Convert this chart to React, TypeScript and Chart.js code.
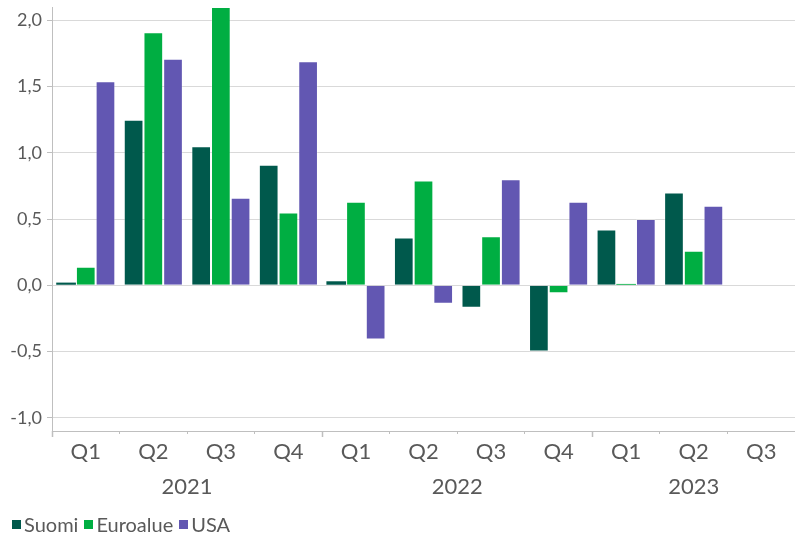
import React, { useEffect, useRef } from "react";
import { Chart, registerables } from "chart.js";

Chart.register(...registerables);

const categories = ["Q1", "Q2", "Q3", "Q4", "Q1", "Q2", "Q3", "Q4", "Q1", "Q2", "Q3"];
const years = ["2021", "2022", "2023"];
const yearGroupSizes = [4, 4, 3];

const suomi = [0.02, 1.25, 1.05, 0.91, 0.03, 0.36, -0.17, -0.5, 0.42, 0.7, null];
const euroalue = [0.14, 1.91, 2.1, 0.55, 0.63, 0.79, 0.37, -0.06, 0.01, 0.26, null];
const usa = [1.54, 1.71, 0.66, 1.69, -0.41, -0.14, 0.8, 0.63, 0.5, 0.6, null];

const seriesNames = ["Suomi", "Euroalue", "USA"];
const seriesColors = ["#00594c", "#00ae42", "#6257b2"];

const yMin = -1.1;
const yMax = 2.1;
const yTickMin = -1.0;
const yTickMax = 2.0;
const yStep = 0.5;

const FONT = "Lato";
const TEXT = "#595959";
const AXIS = "#bfbfbf";

const yearPlugin = {
  id: "yearLabels",
  afterDraw(chart: any) {
    const x = chart.scales.x;
    const ctx = chart.ctx;
    const half = (x.getPixelForValue(1) - x.getPixelForValue(0)) / 2;
    ctx.save();
    // longer ticks at year boundaries
    ctx.strokeStyle = AXIS;
    ctx.lineWidth = 1.5;
    let start = 0;
    const bounds: number[] = [start];
    for (const s of yearGroupSizes) {
      start += s;
      bounds.push(start);
    }
    bounds.forEach((b) => {
      if (b >= categories.length) return;
      const px = Math.round(x.getPixelForValue(b) - half) + 0.5;
      ctx.beginPath();
      ctx.moveTo(px, x.top);
      ctx.lineTo(px, x.top + 6);
      ctx.stroke();
    });
    // year labels
    ctx.fillStyle = TEXT;
    ctx.font = `22px ${FONT}`;
    ctx.textAlign = "center";
    ctx.textBaseline = "middle";
    let s0 = 0;
    yearGroupSizes.forEach((s, i) => {
      const a = x.getPixelForValue(s0);
      const b = x.getPixelForValue(s0 + s - 1);
      ctx.fillText(years[i], (a + b) / 2, x.top + 55.5);
      s0 += s;
    });
    ctx.restore();
  },
};

export default function App() {
  const ref = useRef<HTMLCanvasElement | null>(null);

  useEffect(() => {
    document.body.style.margin = "0";
    const canvas = ref.current;
    if (!canvas) return;

    const data = [suomi, euroalue, usa];
    const chart = new Chart(canvas, {
      type: "bar",
      data: {
        labels: categories,
        datasets: data.map((d, i) => ({
          label: seriesNames[i],
          data: d,
          backgroundColor: seriesColors[i],
          borderColor: "rgba(255,255,255,0.25)",
          borderWidth: (c: any) => {
            const v = c.raw;
            return v != null && Math.abs(v) < 0.05 ? 0 : 1;
          },
          categoryPercentage: 0.875,
          barPercentage: 1,
        })),
      },
      options: {
        responsive: false,
        animation: false,
        layout: { padding: { top: 7, right: 0, bottom: 34, left: 0 } },
        plugins: {
          legend: { display: false },
          title: { display: false },
          tooltip: { enabled: false },
        },
        scales: {
          x: {
            type: "category",
            position: "bottom",
            offset: true,
            grid: {
              display: true,
              drawOnChartArea: false,
              offset: true,
              tickLength: 3,
              color: AXIS,
            },
            border: { display: true, color: AXIS, width: 1 },
            ticks: {
              font: { family: FONT, size: 22 },
              color: TEXT,
              padding: 5,
              maxRotation: 0,
              autoSkip: false,
            },
            afterFit: (s: any) => {
              s.height = 68;
              s.paddingLeft = 0;
              s.paddingRight = 0;
            },
          },
          y: {
            type: "linear",
            min: yMin,
            max: yMax,
            grid: {
              color: "#d9d9d9",
              lineWidth: 1,
              tickLength: 5,
              tickColor: AXIS,
            },
            border: { display: true, color: AXIS, width: 1 },
            ticks: {
              stepSize: yStep,
              font: { family: FONT, size: 18 },
              color: TEXT,
              padding: 5,
              callback: (v: any) => Number(v).toFixed(1).replace(".", ","),
            },
            afterBuildTicks: (s: any) => {
              const t: any[] = [];
              const n = Math.round((yTickMax - yTickMin) / yStep);
              for (let i = 0; i <= n; i++) t.push({ value: +(yTickMin + i * yStep).toFixed(6) });
              s.ticks = t;
            },
            afterFit: (s: any) => {
              s.width = 52;
              s.paddingTop = 0;
              s.paddingBottom = 0;
            },
          },
        },
      },
      plugins: [yearPlugin],
    });
    return () => chart.destroy();
  }, []);

  return (
    <div style={{ position: "relative", width: 795, height: 533, overflow: "hidden" }}>
      <canvas ref={ref} width={795} height={533} style={{ display: "block" }} />
      <div
        style={{
          position: "absolute",
          left: 12,
          top: 514,
          display: "flex",
          alignItems: "center",
          fontFamily: FONT,
          fontSize: 20,
          lineHeight: "20px",
          color: TEXT,
        }}
      >
        {seriesNames.map((n, i) => (
          <div key={n} style={{ display: "flex", alignItems: "center", marginRight: 6 }}>
            <span
              style={{
                display: "inline-block",
                width: 9,
                height: 9,
                background: seriesColors[i],
                marginRight: 3,
              }}
            />
            <span>{n}</span>
          </div>
        ))}
      </div>
    </div>
  );
}
